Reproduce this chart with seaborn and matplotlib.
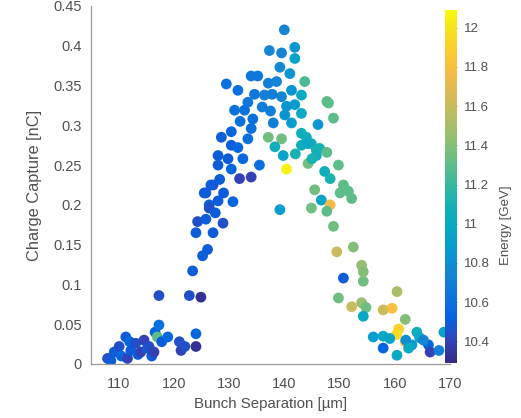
import numpy as np
import pandas as pd
import matplotlib
matplotlib.use("Agg")
import matplotlib.pyplot as plt
from matplotlib.colors import LinearSegmentedColormap, Normalize
from matplotlib.cm import ScalarMappable
import seaborn as sns

# Bunch separation [um], captured charge [nC], beam energy [GeV]
separation = [
    108.0, 108.6, 109.2, 110.1, 110.5, 111.3, 111.6, 112.0, 112.2, 113.1,
    113.5, 114.0, 114.6, 115.2, 115.5, 116.0, 116.4, 116.6, 117.0, 117.3,
    117.3, 117.8, 118.9, 121.0, 121.3, 122.0, 122.8, 124.9, 124.0, 124.0,
    123.4, 125.2, 126.1, 124.0, 124.3, 125.8, 127.1, 125.5, 126.4, 127.1,
    125.8, 126.4, 127.5, 128.9, 128.0, 130.7, 129.0, 128.3, 126.7, 131.9,
    134.0, 128.0, 129.8, 130.4, 128.0, 130.4, 131.6, 128.6, 130.4, 133.4,
    131.0, 132.8, 134.0, 134.3, 133.4, 134.6, 129.5, 131.6, 134.0, 135.2,
    135.5, 132.0, 132.5,
    140.0, 137.3, 139.5, 141.9, 141.9, 139.2, 141.0, 137.1, 138.6, 136.4,
    141.3, 139.5, 137.8, 143.1, 140.4, 141.9, 136.0, 137.5, 140.1, 143.1,
    141.3, 138.0, 137.1, 139.5, 143.1, 138.3, 143.1, 144.9, 139.8, 142.0,
    140.4, 139.2, 143.7,
    147.7, 148.0, 148.9, 146.1, 144.0, 144.3, 145.8, 146.4, 147.7, 145.8,
    144.3, 145.0, 149.8, 147.3, 148.3, 150.7, 151.6, 152.2, 150.1, 151.0,
    145.5, 146.7, 148.3, 144.9, 147.7, 148.9, 149.5, 152.5, 154.0, 150.7,
    154.3, 154.3,
    160.4, 149.8, 152.2, 154.0, 154.8, 154.3, 157.9, 159.5, 161.9, 160.7,
    160.3, 161.9, 156.1, 157.9, 159.1, 157.9, 160.4, 164.0, 164.5, 163.1,
    162.0, 166.1, 166.4, 168.0, 168.9, 165.2, 162.5,
]
charge = [
    0.007, 0.004, 0.015, 0.022, 0.010, 0.034, 0.007, 0.028, 0.017, 0.026,
    0.012, 0.015, 0.030, 0.020, 0.022, 0.010, 0.015, 0.040, 0.034, 0.049,
    0.086, 0.028, 0.034, 0.028, 0.017, 0.022, 0.086, 0.084, 0.038, 0.022,
    0.117, 0.136, 0.144, 0.165, 0.179, 0.182, 0.165, 0.215, 0.200, 0.225,
    0.215, 0.196, 0.190, 0.177, 0.205, 0.204, 0.215, 0.232, 0.225, 0.233,
    0.235, 0.250, 0.258, 0.245, 0.262, 0.275, 0.272, 0.285, 0.292, 0.283,
    0.319, 0.319, 0.296, 0.308, 0.329, 0.339, 0.352, 0.344, 0.362, 0.362,
    0.250, 0.305, 0.258,
    0.420, 0.394, 0.391, 0.398, 0.384, 0.373, 0.365, 0.353, 0.355, 0.338,
    0.344, 0.336, 0.339, 0.338, 0.324, 0.326, 0.323, 0.318, 0.313, 0.315,
    0.303, 0.303, 0.285, 0.283, 0.290, 0.273, 0.275, 0.277, 0.262, 0.264,
    0.245, 0.194, 0.355,
    0.330, 0.328, 0.309, 0.301, 0.285, 0.277, 0.269, 0.271, 0.266, 0.262,
    0.252, 0.258, 0.250, 0.242, 0.233, 0.225, 0.217, 0.208, 0.215, 0.220,
    0.219, 0.206, 0.200, 0.196, 0.192, 0.173, 0.141, 0.147, 0.124, 0.108,
    0.104, 0.116,
    0.091, 0.083, 0.072, 0.077, 0.071, 0.060, 0.068, 0.070, 0.056, 0.044,
    0.037, 0.028, 0.034, 0.035, 0.032, 0.020, 0.011, 0.040, 0.033, 0.024,
    0.030, 0.024, 0.015, 0.017, 0.040, 0.030, 0.020,
]
energy = [
    10.45, 10.50, 10.50, 10.45, 10.55, 10.50, 10.40, 10.55, 10.50, 10.45,
    10.50, 10.40, 10.40, 10.50, 10.45, 10.50, 10.40, 10.55, 11.30, 10.60,
    10.45, 10.50, 10.55, 10.45, 10.40, 10.45, 10.45, 10.32, 10.55, 10.32,
    10.50, 10.50, 10.50, 10.50, 10.45, 10.50, 10.50, 10.50, 10.50, 10.45,
    10.50, 10.45, 10.50, 10.45, 10.50, 10.55, 10.50, 10.50, 10.50, 10.40,
    10.40, 10.50, 10.50, 10.55, 10.50, 10.50, 10.55, 10.50, 10.55, 10.60,
    10.60, 10.60, 10.60, 10.60, 10.65, 10.65, 10.60, 10.60, 10.65, 10.65,
    10.60, 10.60, 10.55,
    10.75, 10.75, 10.75, 10.85, 10.95, 10.78, 10.85, 10.70, 10.75, 10.70,
    10.85, 10.75, 10.70, 11.00, 10.85, 10.90, 10.70, 10.70, 10.85, 11.00,
    10.90, 10.70, 11.35, 11.35, 11.05, 11.05, 11.05, 11.05, 10.95, 11.10,
    12.05, 10.90, 11.25,
    11.30, 11.30, 11.30, 10.85, 11.05, 11.00, 11.10, 11.10, 11.30, 11.05,
    11.35, 11.10, 11.30, 11.05, 11.10, 11.30, 11.30, 11.30, 11.30, 11.30,
    11.35, 10.95, 11.75, 11.35, 11.30, 11.35, 11.60, 11.40, 11.45, 10.50,
    11.35, 11.40,
    11.50, 11.35, 11.60, 11.45, 11.35, 11.00, 11.60, 11.80, 11.40, 11.90,
    11.95, 11.80, 10.90, 11.00, 10.95, 10.55, 11.00, 11.05, 11.00, 10.90,
    10.80, 10.55, 10.40, 10.70, 10.95, 10.75, 11.00,
]

energy_range = (10.29, 12.09)
energy_ticks = [10.4, 10.6, 10.8, 11.0, 11.2, 11.4, 11.6, 11.8, 12.0]
energy_ticklabels = ["10.4", "10.6", "10.8", "11", "11.2", "11.4", "11.6", "11.8", "12"]
x_ticks = [110, 120, 130, 140, 150, 160, 170]
y_ticks = [0, 0.05, 0.1, 0.15, 0.2, 0.25, 0.3, 0.35, 0.4, 0.45]
y_ticklabels = ["0", "0.05", "0.1", "0.15", "0.2", "0.25", "0.3", "0.35", "0.4", "0.45"]

# Parula-like colormap
parula_anchors = [
    (0.2081, 0.1663, 0.5292), (0.1959, 0.2645, 0.7279), (0.0117, 0.3875, 0.8820),
    (0.0498, 0.4586, 0.8641), (0.0793, 0.5200, 0.8312), (0.0343, 0.5966, 0.8199),
    (0.0228, 0.6535, 0.7768), (0.0843, 0.6928, 0.7062), (0.2178, 0.7250, 0.6193),
    (0.3953, 0.7459, 0.5244), (0.5709, 0.7485, 0.4494), (0.7184, 0.7411, 0.3905),
    (0.8507, 0.7299, 0.3360), (0.9739, 0.7314, 0.2666), (0.9880, 0.8066, 0.1794),
    (0.9589, 0.8949, 0.1132), (0.9763, 0.9831, 0.0538),
]
positions = [i * 4 / 63 for i in range(16)] + [1.0]
parula = LinearSegmentedColormap.from_list("parula", list(zip(positions, parula_anchors)))

df = pd.DataFrame({"sep": separation, "charge": charge, "energy": energy})

sns.set_theme(style="white")
plt.rcParams["font.family"] = ["Liberation Sans", "DejaVu Sans"]
text_color = "#505050"
axis_color = "#9a9a9a"

fig = plt.figure(figsize=(5.21, 4.18), dpi=100)
ax = fig.add_axes([0.1747, 0.1292, 0.689, 0.8565])
norm = Normalize(*energy_range)
sns.scatterplot(data=df, x="sep", y="charge", hue="energy", palette=parula,
                hue_norm=norm, s=60, linewidth=0, legend=False, ax=ax)

ax.set_xlim(105, 170)
ax.set_ylim(0, 0.45)
ax.set_xticks(x_ticks)
ax.set_yticks(y_ticks)
ax.set_yticklabels(y_ticklabels)
for side in ("top", "right"):
    ax.spines[side].set_visible(False)
for side in ("left", "bottom"):
    ax.spines[side].set_color(axis_color)
    ax.spines[side].set_linewidth(0.9)
ax.tick_params(direction="in", length=3.5, width=0.8, color=axis_color,
               labelcolor=text_color, labelsize=10.5)
ax.tick_params(axis="y", pad=6.5)
ax.tick_params(axis="x", pad=9.5)
ax.set_xlabel("Bunch Separation [µm]", color=text_color, fontsize=10.8, labelpad=4)
ax.set_ylabel("Charge Capture [nC]", color=text_color, fontsize=11.8, labelpad=8)
ax.patch.set_alpha(0)

cax = fig.add_axes([0.854, 0.1316, 0.023, 0.8445])
cb = fig.colorbar(ScalarMappable(norm=norm, cmap=parula), cax=cax)
cb.outline.set_visible(False)
cb.set_ticks(energy_ticks)
cb.set_ticklabels(energy_ticklabels)
cax.tick_params(direction="in", length=2.5, width=0.6, color="#777777",
                labelcolor=text_color, labelsize=9.5, pad=5)
cb.set_label("Energy [GeV]", color=text_color, fontsize=9.5)
cax.yaxis.set_label_coords(4.6, 0.39)

fig.savefig("out.png", dpi=100)
